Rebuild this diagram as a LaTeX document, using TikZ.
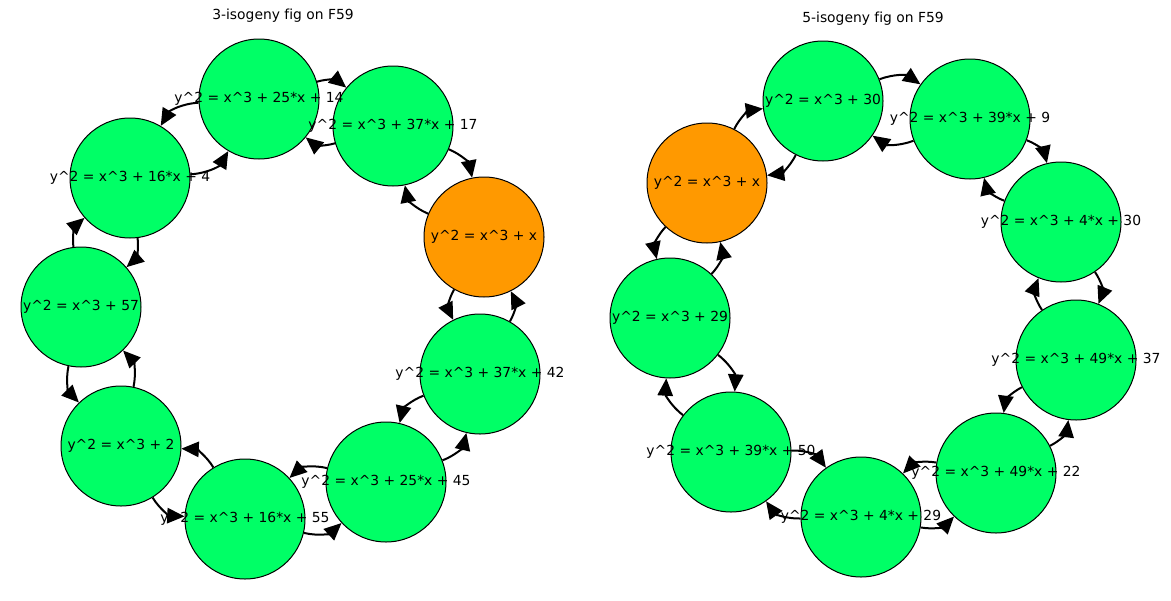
\documentclass[tikz,border=0pt]{standalone}
\usepackage{fontspec}
\setmainfont{DejaVu Sans}[Ligatures=NoCommon]
\usetikzlibrary{arrows.meta}
\definecolor{ecgreen}{RGB}{0,255,102}
\definecolor{ecorange}{RGB}{255,153,0}
\newcommand{\pw}{\textasciicircum}
\tikzset{
  ecnode/.style={circle, draw=black, line width=0.75pt, fill=ecgreen, minimum size=90pt, inner sep=0pt},
  ecroot/.style={ecnode, fill=ecorange},
  eqn/.style={font=\fontsize{10.4}{12}\selectfont, inner sep=0pt},
  iso/.style={line width=1.5pt, -{Triangle[length=13pt,width=11.5pt]}},
}
\begin{document}
\begin{tikzpicture}[x=0.75pt, y=-0.75pt, line join=round]
\useasboundingbox (0,0) rectangle (1171,600);
% titles
\node[eqn] (t3) at (283,16) {3-isogeny fig on F59};
\node[eqn] (t5) at (873,19) {5-isogeny fig on F59};
% circles
\foreach \n/\x/\y/\s in {a1/259/99/ecnode, a2/393/126/ecnode, a3/484/237/ecroot,
    a4/480/374/ecnode, a5/386/482/ecnode, a6/245/519/ecnode, a7/121/446/ecnode,
    a8/81/307/ecnode, a9/130/178/ecnode,
    b1/823/101/ecnode, b2/970/119/ecnode, b3/1061/222/ecnode, b4/1076/360/ecnode,
    b5/996/473/ecnode, b6/861/517/ecnode, b7/731/452/ecnode, b8/670/318/ecnode,
    b9/707/183/ecroot}
  \node[\s] (\n) at (\x,\y) {};
% labels
\foreach \n/\t in {a1/{25*x + 14}, a2/{37*x + 17}, a3/{x}, a4/{37*x + 42},
    a5/{25*x + 45}, a6/{16*x + 55}, a7/{2}, a8/{57}, a9/{16*x + 4},
    b1/{30}, b2/{39*x + 9}, b3/{4*x + 30}, b4/{49*x + 37}, b5/{49*x + 22},
    b6/{4*x + 29}, b7/{39*x + 50}, b8/{29}, b9/{x}}
  \node[eqn] (l\n) at (\n) {y\pw2 = x\pw3 + \t};
% isogenies, both ways
\foreach \p/\q/\b in {a1/a2/left, a2/a3/left, a3/a4/right, a4/a5/right, a5/a6/right,
    a6/a7/right, a7/a8/right, a8/a9/left, a9/a1/right,
    b1/b2/left, b2/b3/left, b3/b4/left, b4/b5/right, b5/b6/right,
    b6/b7/left, b7/b8/left, b8/b9/right, b9/b1/left}
  {\draw[iso] (\p) to[bend \b=28] (\q);
   \draw[iso] (\q) to[bend \b=28] (\p);}
\end{tikzpicture}
\end{document}
